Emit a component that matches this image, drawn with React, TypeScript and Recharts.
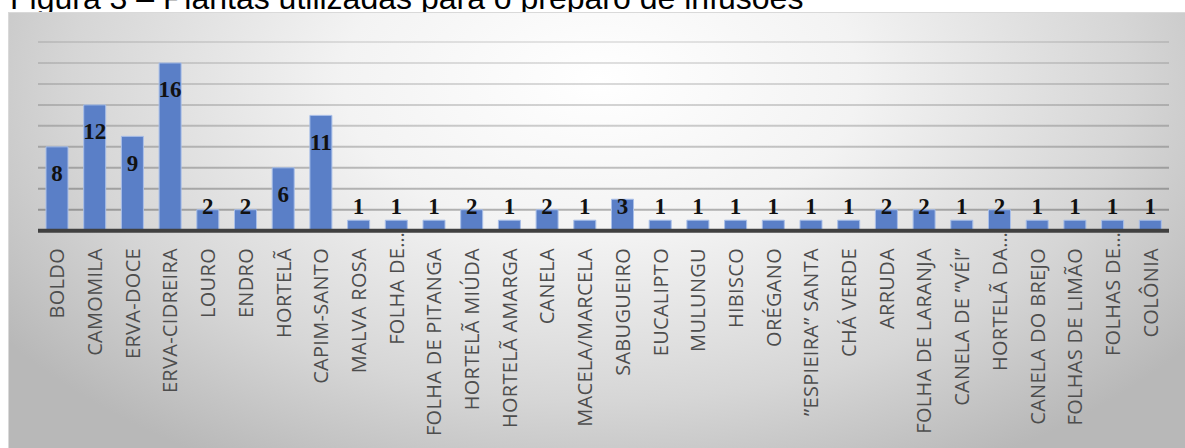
import React from 'react';
import { BarChart, Bar, XAxis, YAxis, CartesianGrid, LabelList } from 'recharts';

const plants = [
  'BOLDO', 'CAMOMILA', 'ERVA-DOCE', 'ERVA-CIDREIRA', 'LOURO', 'ENDRO', 'HORTELÃ',
  'CAPIM-SANTO', 'MALVA ROSA', 'FOLHA DE…', 'FOLHA DE PITANGA', 'HORTELÃ MIÚDA',
  'HORTELÃ AMARGA', 'CANELA', 'MACELA/MARCELA', 'SABUGUEIRO', 'EUCALIPTO', 'MULUNGU',
  'HIBISCO', 'ORÉGANO', '’’ESPIEIRA’’ SANTA', 'CHÁ VERDE', 'ARRUDA', 'FOLHA DE LARANJA',
  'CANELA DE ’’VÉI’’', 'HORTELÃ DA…', 'CANELA DO BREJO', 'FOLHAS DE LIMÃO', 'FOLHAS DE…',
  'COLÔNIA',
];
const counts = [8, 12, 9, 16, 2, 2, 6, 11, 1, 1, 1, 2, 1, 2, 1, 3, 1, 1, 1, 1, 1, 1, 2, 2, 1, 2, 1, 1, 1, 1];
const gridTicks = [0, 2, 4, 6, 8, 10, 12, 14, 16, 18];

const data = plants.map((name, i) => ({ name, value: counts[i] }));

const W = 1185;
const H = 448;
const AXIS_Y = 230.7;

// rotated category labels, the cut-off ones start right under the axis
function PlantTick(props: any) {
  const { x, payload } = props;
  const label = String(payload.value);
  const cut = label.endsWith('…');
  return (
    <text
      transform={`translate(${x + 7.5},${cut ? 232 : 248}) rotate(-90)`}
      textAnchor="end"
      fill="#4d4d4d"
      fontSize={20}
      letterSpacing={0.3}
      fontFamily="'Open Sans', sans-serif"
    >
      {label}
    </text>
  );
}

// value label near the top of the bar, but never lower than the short-bar row
function ValueLabel(props: any) {
  const { x, y, width, height, value } = props;
  const base = Math.min(y + 34.5, y + height - 16.5);
  return (
    <text
      x={x + width / 2}
      y={base}
      textAnchor="middle"
      fontFamily="'Liberation Serif', 'Times New Roman', serif"
      fontWeight="bold"
      fontSize={23}
      fill="#111"
    >
      {value}
    </text>
  );
}

export default function App() {
  return (
    <div style={{ position: 'absolute', left: 0, top: 0, width: W, height: H, overflow: 'hidden', background: '#fff' }}>
      <div
        style={{
          position: 'absolute',
          left: 10,
          top: -17.6,
          fontFamily: "'Liberation Sans', Arial, sans-serif",
          fontSize: 32,
          lineHeight: '32px',
          whiteSpace: 'nowrap',
          color: '#000',
        }}
      >
        Figura 3 – Plantas utilizadas para o preparo de infusões
      </div>
      <div
        style={{
          position: 'absolute',
          left: 8,
          top: 12,
          width: W,
          height: H,
          border: '1px solid #d9d9d9',
          boxSizing: 'border-box',
          background:
            'radial-gradient(ellipse 62% 100% at 50% 15%, #ffffff 0%, #f3f3f3 35%, #d6d6d6 72%, #b8b8b8 100%)',
        }}
      />
      <div style={{ position: 'absolute', left: 0, top: 0 }}>
        <BarChart
          width={W}
          height={H}
          data={data}
          margin={{ top: 42, right: 16, left: 38, bottom: 0 }}
          barSize={22}
        >
          <defs>
            <linearGradient id="gridGrad" gradientUnits="userSpaceOnUse" x1="0" y1="42" x2="0" y2={AXIS_Y}>
              <stop offset="0%" stopColor="#000" stopOpacity={0.1} />
              <stop offset="100%" stopColor="#000" stopOpacity={0.3} />
            </linearGradient>
          </defs>
          <CartesianGrid vertical={false} horizontalValues={gridTicks} stroke="url(#gridGrad)" strokeWidth={2} />
          <YAxis hide domain={[0, 18]} ticks={gridTicks} interval={0} />
          <XAxis
            dataKey="name"
            interval={0}
            height={H - AXIS_Y}
            tickLine={false}
            axisLine={{ stroke: '#404040', strokeWidth: 4 }}
            tick={<PlantTick />}
          />
          <Bar dataKey="value" fill="#5A7FC7" stroke="#A9BFE8" strokeWidth={1} isAnimationActive={false}>
            <LabelList dataKey="value" content={<ValueLabel />} />
          </Bar>
        </BarChart>
      </div>
    </div>
  );
}
